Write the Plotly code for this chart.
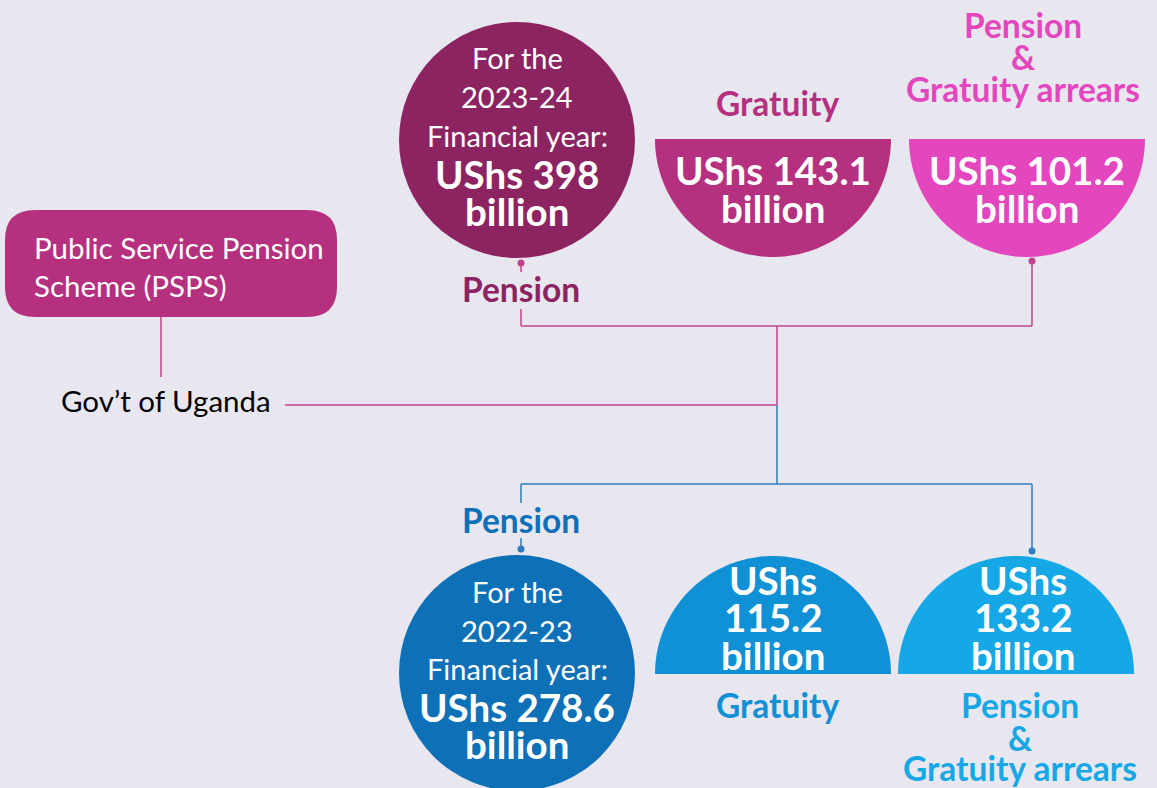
import numpy as np
import plotly.graph_objects as go

# ---------------- data ----------------
years = ["2023-24", "2022-23"]
pension_bn = [398, 278.6]
gratuity_bn = [143.1, 115.2]
arrears_bn = [101.2, 133.2]
category_labels = ["Pension", "Gratuity", "Pension<br>&<br>Gratuity arrears"]
scheme_name = "Public Service Pension<br>Scheme (PSPS)"
funder = "Gov\u2019t of Uganda"

# ---------------- style ----------------
W, H = 1157, 788
BG = "#E8E6EF"
top_colors = ["#8B2461", "#B5317F", "#E446BE"]
bot_colors = ["#0E71B8", "#1090D5", "#16A8E6"]
PINK_LINE = "#C2438C"
BLUE_LINE = "#2E7DC0"
FONT = "Lato"
R = 118
REG = 29      # regular text size
VAL = 38.5    # bold value text size
LAB = 33.5    # bold category label size

fig = go.Figure()
shapes = []
ann = []


def text(x, y, s, size, color, bold=False, xanchor="center"):
    ann.append(dict(x=x, y=y, xref="x", yref="y", text=(f"<b>{s}</b>" if bold else s),
                    showarrow=False, xanchor=xanchor, yanchor="middle",
                    font=dict(family=FONT, size=size, color=color)))


def line(x0, y0, x1, y1, color, w=1.5):
    shapes.append(dict(type="line", x0=x0, y0=y0, x1=x1, y1=y1, xref="x", yref="y",
                       line=dict(color=color, width=w), layer="below"))


def dot(x, y, color, r=3.5):
    shapes.append(dict(type="circle", x0=x - r, x1=x + r, y0=y - r, y1=y + r,
                       xref="x", yref="y", fillcolor=color, line=dict(width=0)))


def circle(cx, cy, color):
    shapes.append(dict(type="circle", x0=cx - R, x1=cx + R, y0=cy - R, y1=cy + R,
                       xref="x", yref="y", fillcolor=color, line=dict(width=0)))


def semi(cx, cy, color, down=True):
    t = np.linspace(0, np.pi, 80)
    xs = cx + R * np.cos(t)
    ys = cy + (R * np.sin(t) if down else -R * np.sin(t))
    path = "M " + " L ".join(f"{a:.2f},{b:.2f}" for a, b in zip(xs, ys)) + " Z"
    shapes.append(dict(type="path", path=path, xref="x", yref="y",
                       fillcolor=color, line=dict(width=0)))


# ---------- connector lines ----------
line(161, 317, 161, 377, PINK_LINE)
line(285, 405, 777, 405, PINK_LINE)
line(777, 326, 777, 405, PINK_LINE)
line(521, 326, 1032, 326, PINK_LINE)
line(521, 309, 521, 326, PINK_LINE)
line(521, 263, 521, 272, PINK_LINE)
line(1032, 261, 1032, 326, PINK_LINE)
dot(521, 263, PINK_LINE)
dot(1032, 261, PINK_LINE)
line(777, 405, 777, 484, BLUE_LINE)
line(521, 484, 1032, 484, BLUE_LINE)
line(521, 484, 521, 503, BLUE_LINE)
line(521, 538, 521, 549, BLUE_LINE)
line(1032, 484, 1032, 551, BLUE_LINE)
dot(521, 549, BLUE_LINE)
dot(1032, 551, BLUE_LINE)

# ---------- PSPS box ----------
x0b, x1b, y0b, y1b, rr = 5, 337, 210, 317, 30
box = (f"M {x0b+rr},{y0b} L {x1b-rr},{y0b} Q {x1b},{y0b} {x1b},{y0b+rr} "
       f"L {x1b},{y1b-rr} Q {x1b},{y1b} {x1b-rr},{y1b} L {x0b+rr},{y1b} "
       f"Q {x0b},{y1b} {x0b},{y1b-rr} L {x0b},{y0b+rr} Q {x0b},{y0b} {x0b+rr},{y0b} Z")
shapes.append(dict(type="path", path=box, xref="x", yref="y",
                   fillcolor="#B5307E", line=dict(width=0)))
for i, s in enumerate(scheme_name.split("<br>")):
    text(32, 247 + i * 38, s, 29.5, "white", xanchor="left")
text(59, 400, funder, 29.5, "black", xanchor="left")

# ---------- top (2023-24) ----------
circle(517, 140, top_colors[0])
semi(773, 139, top_colors[1], down=True)
semi(1027, 139, top_colors[2], down=True)

for s, y in zip(["For the", years[0], "Financial year:"], [57, 96, 135]):
    text(517, y, s, REG, "white")
text(517, 174, f"UShs {pension_bn[0]:g}", VAL, "white", bold=True)
text(517, 211, "billion", VAL, "white", bold=True)
text(521, 289, category_labels[0], LAB, top_colors[0], bold=True)

text(773, 170, f"UShs {gratuity_bn[0]:g}", VAL, "white", bold=True)
text(773, 208, "billion", VAL, "white", bold=True)
text(777, 103, category_labels[1], LAB, top_colors[1], bold=True)

text(1027, 170, f"UShs {arrears_bn[0]:g}", VAL, "white", bold=True)
text(1027, 208, "billion", VAL, "white", bold=True)
for s, y in zip(category_labels[2].split("<br>"), [25, 57, 89]):
    text(1023, y, s, LAB, top_colors[2], bold=True)

# ---------- bottom (2022-23) ----------
circle(517, 673, bot_colors[0])
semi(773, 674, bot_colors[1], down=False)
semi(1016, 674, bot_colors[2], down=False)

for s, y in zip(["For the", years[1], "Financial year:"], [591, 630, 668]):
    text(517, y, s, REG, "white")
text(517, 707, f"UShs {pension_bn[1]:g}", VAL, "white", bold=True)
text(517, 744, "billion", VAL, "white", bold=True)
text(521, 520, category_labels[0], LAB, bot_colors[0], bold=True)

for s, y in zip(["UShs", f"{gratuity_bn[1]:g}", "billion"], [580, 617, 655]):
    text(773, y, s, VAL, "white", bold=True)
text(777, 705, category_labels[1], LAB, bot_colors[1], bold=True)

for s, y in zip(["UShs", f"{arrears_bn[1]:g}", "billion"], [580, 617, 655]):
    text(1023, y, s, VAL, "white", bold=True)
for s, y in zip(category_labels[2].split("<br>"), [705, 738, 768]):
    text(1020, y, s, LAB, bot_colors[2], bold=True)

fig.update_layout(
    width=W, height=H, margin=dict(l=0, r=0, t=0, b=0),
    paper_bgcolor=BG, plot_bgcolor=BG,
    xaxis=dict(range=[0, W], visible=False, fixedrange=True),
    yaxis=dict(range=[H, 0], visible=False, fixedrange=True),
    shapes=shapes, annotations=ann, showlegend=False,
)
fig.write_html("out.html", config={"displayModeBar": False},
               post_script="document.body.style.margin='0';document.body.style.background='" + BG + "';")
